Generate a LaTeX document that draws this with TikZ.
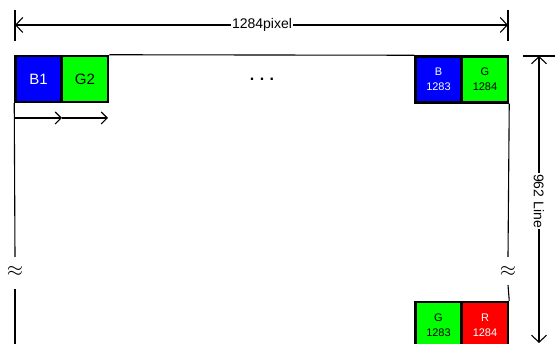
\documentclass[tikz,border=0pt]{standalone}
\usepackage{fontspec}
\setmainfont{Liberation Sans}
\usetikzlibrary{arrows.meta}
\definecolor{pxblue}{RGB}{0,0,255}
\definecolor{pxgreen}{RGB}{0,255,0}
\definecolor{pxred}{RGB}{255,0,0}
\tikzset{
  thin line/.style={line width=1.1pt, black},
  dimtip/.style={{Straight Barb[length=7pt,width=15pt,line width=1.1pt]}-{Straight Barb[length=7pt,width=15pt,line width=1.1pt]}},
  steptip/.style={-{Straight Barb[length=6pt,width=12pt,line width=1.1pt]}},
  pixel/.style={draw=black, line width=2.5pt, minimum width=46pt, minimum height=46pt,
    inner sep=0pt, font=\fontsize{15}{17}\selectfont, align=center},
  smallpixel/.style={pixel, font=\fontsize{11}{15}\selectfont},
  dimlabel/.style={fill=white, inner sep=1pt, font=\fontsize{14}{16}\selectfont},
  breakmark/.style={inner sep=0pt, font=\fontsize{22}{22}\selectfont},
}
\begin{document}
\begin{tikzpicture}[x=1pt, y=-1pt]
  \useasboundingbox (0,0) rectangle (558,344);

  % first row: first and last pixels
  \node[pixel, fill=pxblue, text=white] (b1) at (38.5,79) {B1};
  \node[pixel, fill=pxgreen] (g2) at (85,79) {G2};
  \node[smallpixel, fill=pxblue, text=white] (b1283) at (438.5,79.5) {B\\1283};
  \node[smallpixel, fill=pxgreen] (g1284) at (485,79.5) {G\\1284};
  \node[font=\bfseries\fontsize{16}{16}\selectfont] (dots) at (262,79) {.\,\,.\,\,.};

  % last row
  \node[smallpixel, fill=pxgreen] (g1283) at (438.5,325) {G\\1283};
  \node[smallpixel, fill=pxred, text=white] (r1284) at (485,325) {R\\1284};

  % frame edges
  \draw[thin line] (g2.north east) -- (b1283.north west);
  \node[breakmark] (lbreak) at (15,271) {$\approx$};
  \node[breakmark] (rbreak) at (508,271) {$\approx$};
  \coordinate (lbot) at (15,344);
  \draw[thin line] (b1.south west) -- (15,257);
  \draw[thin line] (15,289) -- (lbot);
  \draw[thin line] (g1284.south east) -- (508,257);
  \draw[thin line] (508,285) -- (r1284.north east);

  % scan direction
  \coordinate (s0) at (15,118);
  \coordinate (s1) at (62,118);
  \coordinate (s2) at (108,118);
  \draw[thin line, steptip] (s0) -- (s1);
  \draw[thin line, steptip] (s1) -- (s2);

  % horizontal dimension
  \coordinate (tl) at (15,25);
  \coordinate (tr) at (508,25);
  \draw[thin line] (15,10) -- (15,41);
  \draw[thin line] (508,10) -- (508,41);
  \draw[thin line, dimtip] (tl) -- (tr);
  \node[dimlabel] (wlabel) at (262,25) {1284pixel};

  % vertical dimension
  \coordinate (vt) at (539,56);
  \coordinate (vb) at (539,343);
  \draw[thin line] (523,56) -- (555,56);
  \draw[thin line, dimtip] (vt) -- (vb);
  \node[dimlabel, rotate=-90] (hlabel) at (539,201) {962 Line};
\end{tikzpicture}
\end{document}
